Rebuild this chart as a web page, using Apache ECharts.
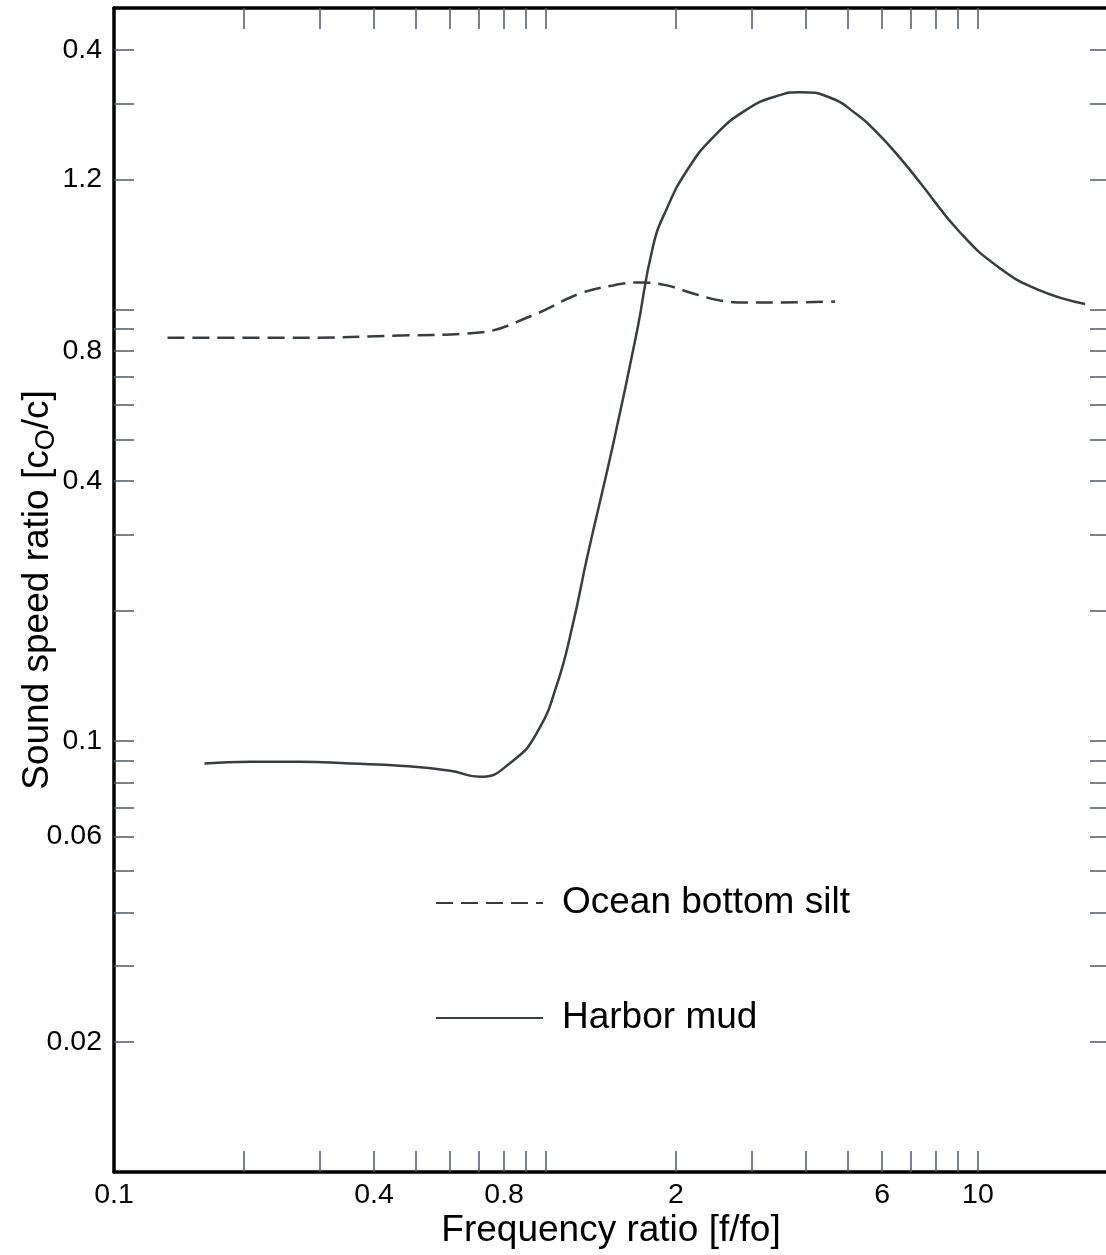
<!DOCTYPE html>
<html>
<head>
<meta charset="utf-8">
<script src="https://cdn.jsdelivr.net/npm/echarts@6/dist/echarts.min.js"></script>
<style>
  html, body { margin: 0; padding: 0; background: #fff; }
  #chart { width: 1106px; height: 1255px; }
</style>
</head>
<body>
<div id="chart"></div>
<script>
// Ocean bottom silt (dashed curve): frequency ratio f/fo and sound speed ratio
const siltFreq  = [0.133, 0.27, 0.459, 0.703, 0.918, 1.199, 1.43, 1.651, 1.905, 2.19, 2.53, 2.92, 3.48, 4.67];
const siltRatio = [0.86, 0.86, 0.87, 0.884, 0.963, 1.089, 1.137, 1.155, 1.137, 1.089, 1.049, 1.038, 1.038, 1.043];

// Harbor mud (solid curve)
const mudFreq  = [0.162, 0.207, 0.27, 0.352, 0.459, 0.60, 0.703, 0.839, 0.953, 1.06, 1.155, 1.245, 1.43, 1.624, 1.769, 1.905, 2.12, 2.44, 2.92, 3.48, 3.87, 4.54, 5.25, 5.84, 6.59, 7.34, 9.08, 11.2, 13.9, 17.7];
const mudRatio = [0.0885, 0.0894, 0.0894, 0.0885, 0.0875, 0.0852, 0.0825, 0.0899, 0.1044, 0.1349, 0.187, 0.266, 0.486, 0.889, 1.40, 1.715, 2.10, 2.51, 2.91, 3.14, 3.19, 3.10, 2.83, 2.57, 2.25, 1.97, 1.51, 1.25, 1.107, 1.03];

// Axis ticks and labels
const xTickValues  = [0.2, 0.3, 0.4, 0.5, 0.6, 0.7, 0.8, 0.9, 1, 2, 3, 4, 5, 6, 7, 8, 9, 10];
const xLabelValues = [0.1, 0.4, 0.8, 2, 6, 10];
const xLabelTexts  = ['0.1', '0.4', '0.8', '2', '6', '10'];
const yTickValues  = [0.02, 0.03, 0.04, 0.05, 0.06, 0.07, 0.08, 0.09, 0.1, 0.2, 0.3, 0.4, 0.5, 0.6, 0.7, 0.8, 0.9, 1, 2, 3, 4];
const yLabelValues = [0.02, 0.06, 0.1, 0.4, 0.8, 2, 4];
const yLabelTexts  = ['0.02', '0.06', '0.1', '0.4', '0.8', '1.2', '0.4'];

const FONT = "'Liberation Sans', Arial, Helvetica, sans-serif";
const INK = '#383d42';
const TICK = '#4d5a66';

const zip = (xs, ys) => xs.map((x, i) => [x, ys[i]]);
const labelFor = (values, texts) => v => {
  let best = 0;
  for (let i = 1; i < values.length; i++) {
    if (Math.abs(Math.log(values[i] / v)) < Math.abs(Math.log(values[best] / v))) best = i;
  }
  return texts[best];
};

const frameLine = { lineStyle: { color: '#000', width: 3.5 } };
const tickStyle = len => ({ inside: true, length: len, lineStyle: { color: TICK, width: 1.5 } });

const chart = echarts.init(document.getElementById('chart'), null, { renderer: 'canvas' });

chart.setOption({
  backgroundColor: '#fff',
  animation: false,
  textStyle: { fontFamily: FONT },
  grid: { left: 114, top: 8, width: 994, height: 1164, outerBoundsMode: 'none', containLabel: false },
  legend: {
    orient: 'vertical',
    left: 430,
    top: 877,
    itemWidth: 107,
    itemHeight: 20,
    itemGap: 73,
    data: ['Ocean bottom silt', 'Harbor mud'],
    itemStyle: { color: 'rgba(0,0,0,0)', borderWidth: 0, opacity: 0 },
    textStyle: { fontFamily: FONT, fontSize: 37, lineHeight: 42, color: '#000', padding: [0, 0, 0, 14] }
  },
  xAxis: [
    {
      type: 'log', logBase: 10, min: 0.1, max: 20, position: 'bottom',
      axisLine: frameLine,
      axisTick: Object.assign(tickStyle(21), { customValues: xTickValues }),
      axisLabel: { customValues: xLabelValues, formatter: labelFor(xLabelValues, xLabelTexts),
                   fontFamily: FONT, fontSize: 28.5, color: '#000', margin: 9 },
      splitLine: { show: false },
      name: 'Frequency ratio [f/fo]', nameLocation: 'middle', nameGap: 40, nameMoveOverlap: false,
      nameTextStyle: { fontFamily: FONT, fontSize: 37, color: '#000', verticalAlign: 'top' }
    },
    {
      type: 'log', logBase: 10, min: 0.1, max: 20, position: 'top',
      axisLine: frameLine,
      axisTick: Object.assign(tickStyle(21), { customValues: xTickValues }),
      axisLabel: { show: false },
      splitLine: { show: false }
    }
  ],
  yAxis: [
    {
      type: 'log', logBase: 10, min: 0.01, max: 5, position: 'left',
      axisLine: frameLine,
      axisTick: Object.assign(tickStyle(20), { customValues: yTickValues }),
      axisLabel: { customValues: yLabelValues, formatter: labelFor(yLabelValues, yLabelTexts),
                   fontFamily: FONT, fontSize: 28.5, color: '#000', margin: 12 },
      splitLine: { show: false },
      name: 'Sound speed ratio [c{sub|O}/c]', nameLocation: 'middle', nameGap: 54, nameRotate: 90,
      nameMoveOverlap: false,
      nameTextStyle: {
        fontFamily: FONT, fontSize: 37, color: '#000', lineHeight: 44,
        rich: { sub: { fontFamily: FONT, fontSize: 27, color: '#000', lineHeight: 44, verticalAlign: 'bottom' } }
      }
    },
    {
      type: 'log', logBase: 10, min: 0.01, max: 5, position: 'right',
      axisLine: { show: false },
      axisTick: Object.assign(tickStyle(18), { customValues: yTickValues }),
      axisLabel: { show: false },
      splitLine: { show: false }
    }
  ],
  series: [
    {
      name: 'Ocean bottom silt', type: 'line', xAxisIndex: 0, yAxisIndex: 0,
      data: zip(siltFreq, siltRatio), showSymbol: false, symbol: 'none',
      smooth: 0.4,
      lineStyle: { color: INK, width: 2.5, type: [17, 8] }, itemStyle: { color: INK }
    },
    {
      name: 'Harbor mud', type: 'line', xAxisIndex: 0, yAxisIndex: 0,
      data: zip(mudFreq, mudRatio), showSymbol: false, symbol: 'none',
      smooth: 0.5,
      lineStyle: { color: INK, width: 2.5 }, itemStyle: { color: INK }
    }
  ]
});
</script>
</body>
</html>
